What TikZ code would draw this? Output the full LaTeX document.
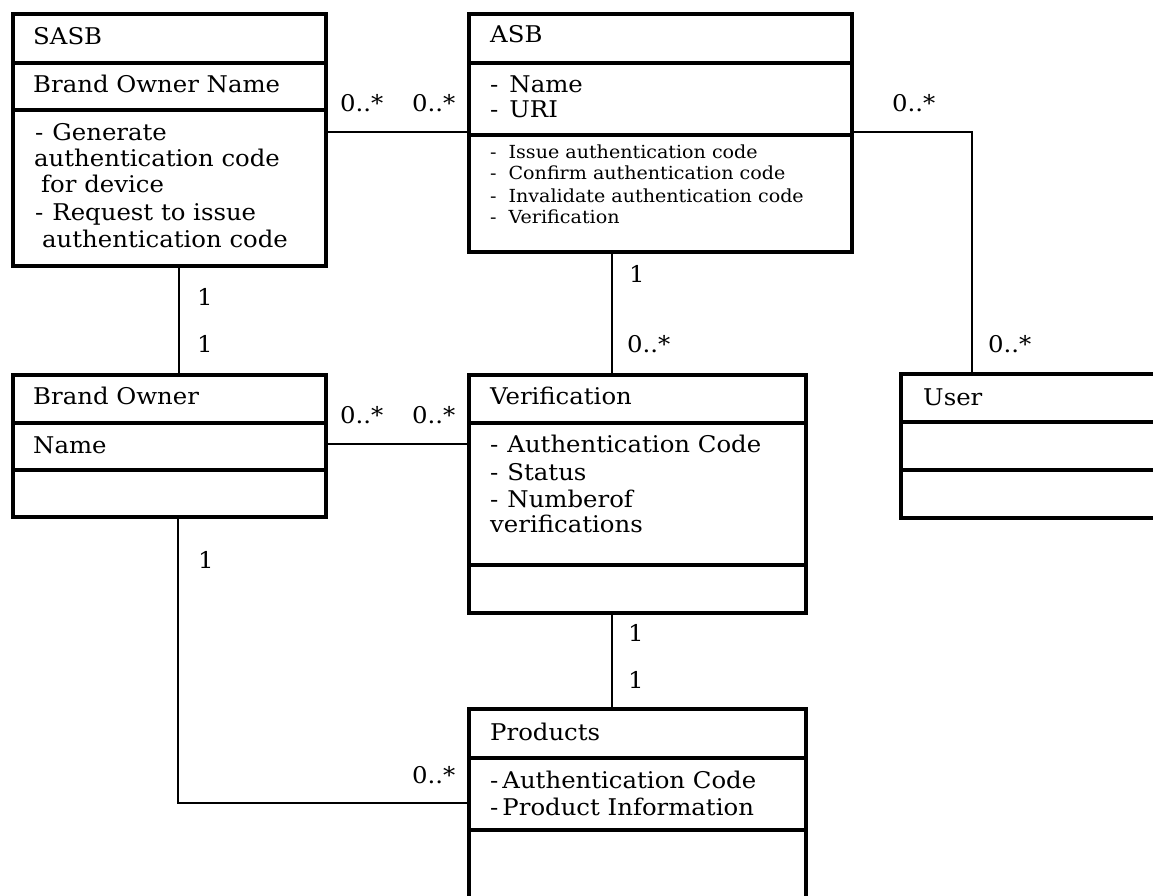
\documentclass[tikz,border=0pt]{standalone}
\usepackage{fontspec}
\setmainfont{DejaVu Serif}[FakeStretch=1.06]
\begin{document}
\begin{tikzpicture}[x=1pt,y=-1pt,
  comp/.style={draw, line width=4pt, rectangle, inner sep=0pt, anchor=north west},
  txt/.style={anchor=base west, inner sep=0pt, font=\fontsize{23}{27}\selectfont},
  small/.style={anchor=base west, inner sep=0pt, font=\fontsize{18}{21}\selectfont},
  mult/.style={anchor=base west, inner sep=0pt, font=\fontsize{23}{27}\selectfont},
  assoc/.style={line width=1.8pt}]
\useasboundingbox (0,0) rectangle (1153,896);
\clip (0,0) rectangle (1153,896);
\fill[white] (0,0) rectangle (1153,896);

% one compartment: name, left, top, width, height
\newcommand\compartment[5]{\node[comp, minimum width=#4pt, minimum height=#5pt] (#1) at (#2,#3) {};}

% SASB
\compartment{sasb}{11}{12}{313}{49}
\compartment{sasbattr}{11}{61}{313}{47}
\compartment{sasbops}{11}{108}{313}{156}
\node[txt] (sasbname) at (33,45) {SASB};
\node[txt] (sasba1) at (33,93) {Brand Owner Name};
\node[txt] (sasbo1) at (35,141) {-\hspace{9pt}Generate};
\node[txt] (sasbo2) at (34,167) {authentication code};
\node[txt] (sasbo3) at (41,193) {for device};
\node[txt] (sasbo4) at (35,220) {-\hspace{9pt}Request to issue};
\node[txt] (sasbo5) at (42,247) {authentication code};

% ASB
\compartment{asb}{467}{12}{383}{49}
\compartment{asbattr}{467}{61}{383}{72}
\compartment{asbops}{467}{133}{383}{117}
\node[txt] (asbname) at (490,43) {ASB};
\node[txt] (asba1) at (490,93) {-\hspace{11pt}Name};
\node[txt] (asba2) at (490,118) {-\hspace{11pt}URI};
\node[small] (asbo1) at (490,159) {-\hspace{12pt}Issue authentication code};
\node[small] (asbo2) at (490,180) {-\hspace{12pt}Confirm authentication code};
\node[small] (asbo3) at (490,202) {-\hspace{12pt}Invalidate authentication code};
\node[small] (asbo4) at (490,223) {-\hspace{12pt}Verification};

% Brand Owner
\compartment{bo}{11}{373}{313}{48}
\compartment{boattr}{11}{421}{313}{47}
\compartment{boops}{11}{468}{313}{47}
\node[txt] (boname) at (33,404) {Brand Owner};
\node[txt] (boa1) at (33,453) {Name};

% Verification
\compartment{ver}{467}{373}{337}{48}
\compartment{verattr}{467}{421}{337}{142}
\compartment{verops}{467}{563}{337}{48}
\node[txt] (vername) at (490,404) {Verification};
\node[txt] (vera1) at (490,452) {-\hspace{9pt}Authentication Code};
\node[txt] (vera2) at (490,480) {-\hspace{9pt}Status};
\node[txt] (vera3) at (490,507) {-\hspace{9pt}Numberof};
\node[txt] (vera4) at (490,532) {verifications};

% User
\compartment{user}{899}{372}{300}{48}
\compartment{userattr}{899}{420}{300}{48}
\compartment{userops}{899}{468}{300}{48}
\node[txt] (username) at (923,405) {User};

% Products
\compartment{prod}{467}{707}{337}{49}
\compartment{prodattr}{467}{756}{337}{72}
\compartment{prodops}{467}{828}{337}{100}
\node[txt] (prodname) at (490,740) {Products};
\node[txt] (proda1) at (490,788) {-\hspace{4pt}Authentication Code};
\node[txt] (proda2) at (490,815) {-\hspace{4pt}Product Information};

% associations
\coordinate (ubend) at (972,132);
\coordinate (pbend) at (178,803);
\draw[assoc] (sasbops.east |- 0,132) -- (asbops.west |- 0,132);
\draw[assoc] (asbops.east |- ubend) -- (ubend) -- (ubend |- user.north);
\draw[assoc] (179,0 |- sasbops.south) -- (179,0 |- bo.north);
\draw[assoc] (612,0 |- asbops.south) -- (612,0 |- ver.north);
\draw[assoc] (612,0 |- verops.south) -- (612,0 |- prod.north);
\draw[assoc] (boattr.east |- 0,444) -- (verattr.west |- 0,444);
\draw[assoc] (pbend |- boops.south) -- (pbend) -- (prodattr.west |- pbend);

% multiplicities
\node[mult] (m1) at (340,112) {0..*};
\node[mult] (m2) at (412,112) {0..*};
\node[mult] (m3) at (892,112) {0..*};
\node[mult] (m4) at (629,282) {1};
\node[mult] (m5) at (627,352) {0..*};
\node[mult] (m6) at (988,352) {0..*};
\node[mult] (m7) at (197,305) {1};
\node[mult] (m8) at (197,352) {1};
\node[mult] (m9) at (340,423) {0..*};
\node[mult] (m10) at (412,423) {0..*};
\node[mult] (m11) at (198,568) {1};
\node[mult] (m12) at (628,641) {1};
\node[mult] (m13) at (628,688) {1};
\node[mult] (m14) at (412,783) {0..*};
\end{tikzpicture}
\end{document}
